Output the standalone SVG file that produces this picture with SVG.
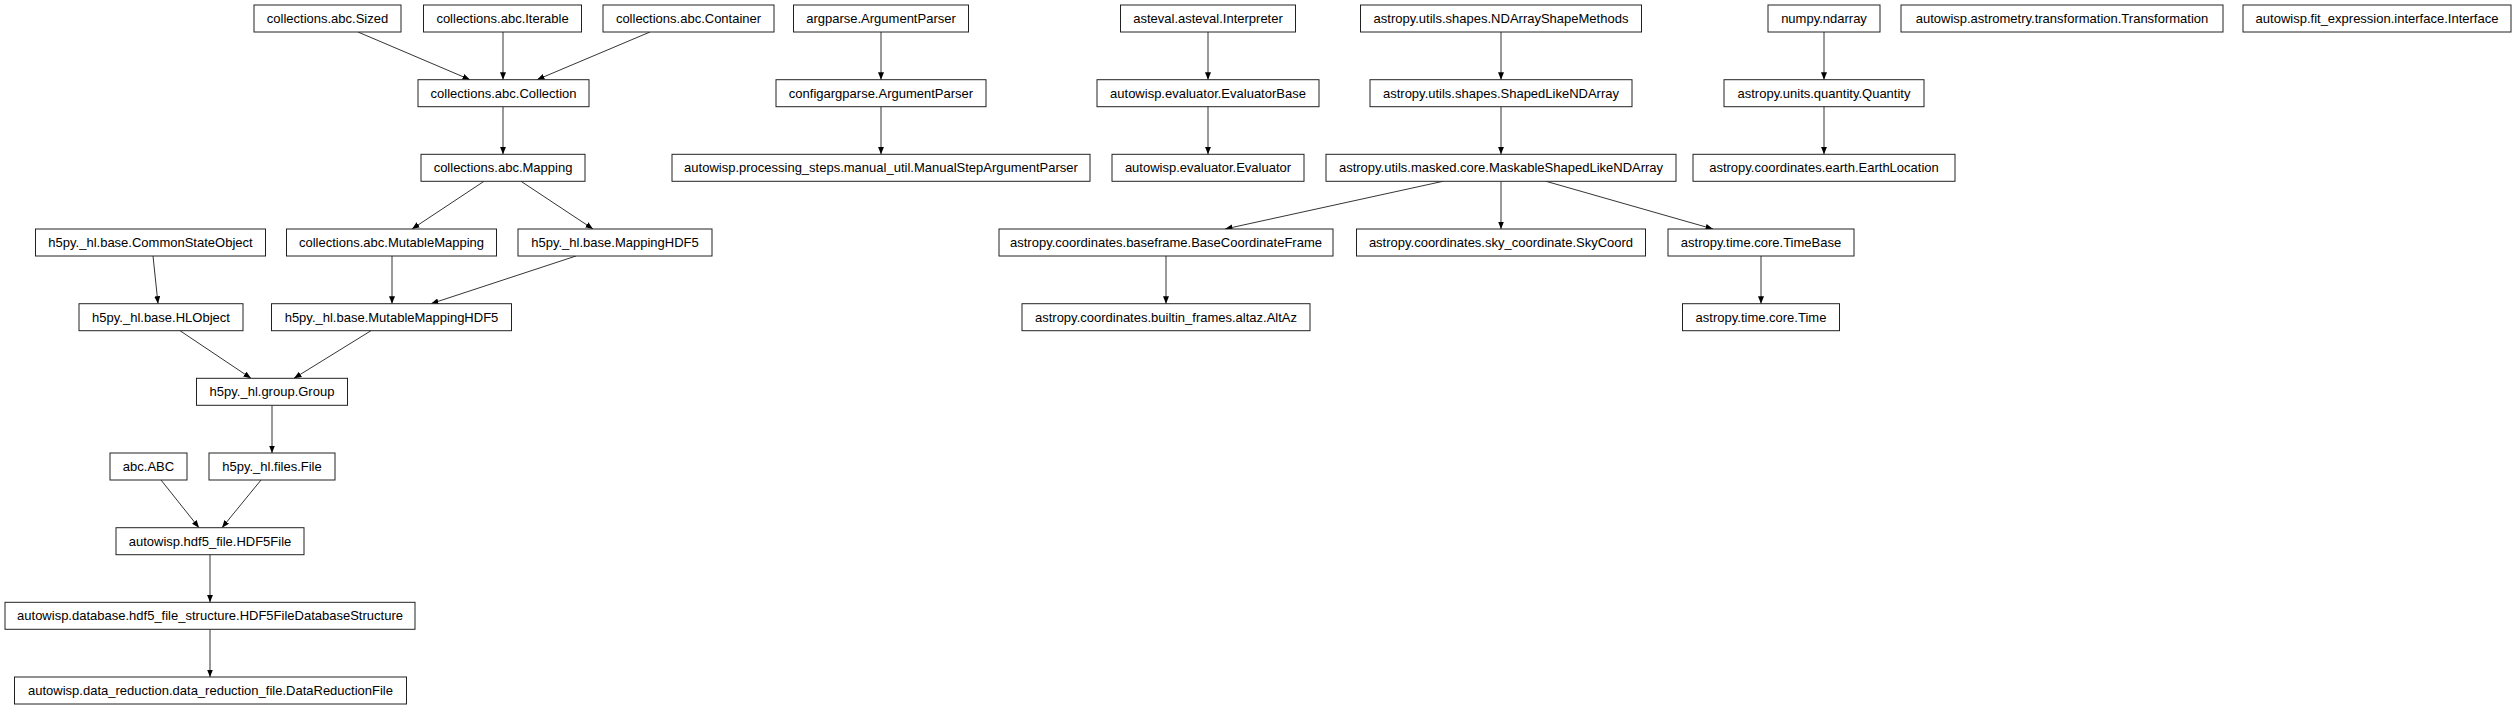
<svg xmlns="http://www.w3.org/2000/svg" width="2516" height="709" viewBox="0 0 2516 709">
<style>
.n rect{fill:#fff;stroke:#222;stroke-width:1}
.n text{font-family:"Liberation Sans",Arial,sans-serif;font-size:13px;fill:#000;text-anchor:middle}
#edges line{stroke:#000;stroke-width:0.8;marker-end:url(#ah)}
</style>
<defs>
<marker id="ah" markerUnits="userSpaceOnUse" markerWidth="8" markerHeight="6" refX="7.5" refY="3" orient="auto">
<path d="M0,0 L7.5,3 L0,6 z" fill="#000"/>
</marker>
</defs>
<rect width="2516" height="709" fill="#fff"/>
<g id="edges">
<line x1="358" y1="32" x2="470" y2="79.7"/>
<line x1="503" y1="32" x2="503" y2="79.7"/>
<line x1="650" y1="32" x2="537" y2="79.7"/>
<line x1="503" y1="106.7" x2="503" y2="154.3"/>
<line x1="484" y1="181.3" x2="412" y2="229"/>
<line x1="521" y1="181.3" x2="593" y2="229"/>
<line x1="153" y1="256" x2="158" y2="303.7"/>
<line x1="392" y1="256" x2="392" y2="303.7"/>
<line x1="576" y1="256" x2="431" y2="303.7"/>
<line x1="180" y1="330.7" x2="251" y2="378.3"/>
<line x1="371" y1="330.7" x2="294" y2="378.3"/>
<line x1="272" y1="405.3" x2="272" y2="453"/>
<line x1="161" y1="480" x2="199" y2="527.7"/>
<line x1="261" y1="480" x2="222" y2="527.7"/>
<line x1="210" y1="554.7" x2="210" y2="602.3"/>
<line x1="210" y1="629.3" x2="210" y2="677"/>
<line x1="881" y1="32" x2="881" y2="79.7"/>
<line x1="881" y1="106.7" x2="881" y2="154.3"/>
<line x1="1208" y1="32" x2="1208" y2="79.7"/>
<line x1="1208" y1="106.7" x2="1208" y2="154.3"/>
<line x1="1501" y1="32" x2="1501" y2="79.7"/>
<line x1="1501" y1="106.7" x2="1501" y2="154.3"/>
<line x1="1824" y1="32" x2="1824" y2="79.7"/>
<line x1="1824" y1="106.7" x2="1824" y2="154.3"/>
<line x1="1443" y1="181.3" x2="1225" y2="229"/>
<line x1="1501" y1="181.3" x2="1501" y2="229"/>
<line x1="1546" y1="181.3" x2="1713" y2="229"/>
<line x1="1166" y1="256" x2="1166" y2="303.7"/>
<line x1="1761" y1="256" x2="1761" y2="303.7"/>
</g>
<g id="sized" class="n"><rect x="254" y="5" width="147" height="27"/><text x="327.5" y="23">collections.abc.Sized</text></g>
<g id="iterable" class="n"><rect x="423.5" y="5" width="158" height="27"/><text x="502.5" y="23">collections.abc.Iterable</text></g>
<g id="container" class="n"><rect x="603" y="5" width="171" height="27"/><text x="688.5" y="23">collections.abc.Container</text></g>
<g id="argparse" class="n"><rect x="793.5" y="5" width="175" height="27"/><text x="881" y="23">argparse.ArgumentParser</text></g>
<g id="interpreter" class="n"><rect x="1120.5" y="5" width="175" height="27"/><text x="1208" y="23">asteval.asteval.Interpreter</text></g>
<g id="ndarrayshapemethods" class="n"><rect x="1360.5" y="5" width="281" height="27"/><text x="1501" y="23">astropy.utils.shapes.NDArrayShapeMethods</text></g>
<g id="ndarray" class="n"><rect x="1768" y="5" width="112" height="27"/><text x="1824" y="23">numpy.ndarray</text></g>
<g id="transformation" class="n"><rect x="1901" y="5" width="322" height="27"/><text x="2062" y="23">autowisp.astrometry.transformation.Transformation</text></g>
<g id="interface" class="n"><rect x="2243" y="5" width="268" height="27"/><text x="2377" y="23">autowisp.fit_expression.interface.Interface</text></g>
<g id="collection" class="n"><rect x="418" y="79.7" width="171" height="27"/><text x="503.5" y="97.7">collections.abc.Collection</text></g>
<g id="configargparse" class="n"><rect x="776" y="79.7" width="210" height="27"/><text x="881" y="97.7">configargparse.ArgumentParser</text></g>
<g id="evaluatorbase" class="n"><rect x="1097" y="79.7" width="222" height="27"/><text x="1208" y="97.7">autowisp.evaluator.EvaluatorBase</text></g>
<g id="shapedlike" class="n"><rect x="1370" y="79.7" width="262" height="27"/><text x="1501" y="97.7">astropy.utils.shapes.ShapedLikeNDArray</text></g>
<g id="quantity" class="n"><rect x="1724" y="79.7" width="200" height="27"/><text x="1824" y="97.7">astropy.units.quantity.Quantity</text></g>
<g id="mapping" class="n"><rect x="421" y="154.3" width="164" height="27"/><text x="503" y="172.3">collections.abc.Mapping</text></g>
<g id="manualstep" class="n"><rect x="672" y="154.3" width="418" height="27"/><text x="881" y="172.3">autowisp.processing_steps.manual_util.ManualStepArgumentParser</text></g>
<g id="evaluator" class="n"><rect x="1112" y="154.3" width="192" height="27"/><text x="1208" y="172.3">autowisp.evaluator.Evaluator</text></g>
<g id="maskable" class="n"><rect x="1326" y="154.3" width="350" height="27"/><text x="1501" y="172.3">astropy.utils.masked.core.MaskableShapedLikeNDArray</text></g>
<g id="earthlocation" class="n"><rect x="1693" y="154.3" width="262" height="27"/><text x="1824" y="172.3">astropy.coordinates.earth.EarthLocation</text></g>
<g id="commonstate" class="n"><rect x="35.5" y="229" width="230" height="27"/><text x="150.5" y="247">h5py._hl.base.CommonStateObject</text></g>
<g id="mutablemapping" class="n"><rect x="286.5" y="229" width="210" height="27"/><text x="391.5" y="247">collections.abc.MutableMapping</text></g>
<g id="mappinghdf5" class="n"><rect x="518" y="229" width="194" height="27"/><text x="615" y="247">h5py._hl.base.MappingHDF5</text></g>
<g id="baseframe" class="n"><rect x="999" y="229" width="334" height="27"/><text x="1166" y="247">astropy.coordinates.baseframe.BaseCoordinateFrame</text></g>
<g id="skycoord" class="n"><rect x="1356.5" y="229" width="289" height="27"/><text x="1501" y="247">astropy.coordinates.sky_coordinate.SkyCoord</text></g>
<g id="timebase" class="n"><rect x="1668" y="229" width="186" height="27"/><text x="1761" y="247">astropy.time.core.TimeBase</text></g>
<g id="hlobject" class="n"><rect x="79" y="303.7" width="164" height="27"/><text x="161" y="321.7">h5py._hl.base.HLObject</text></g>
<g id="mutablemappinghdf5" class="n"><rect x="271.5" y="303.7" width="240" height="27"/><text x="391.5" y="321.7">h5py._hl.base.MutableMappingHDF5</text></g>
<g id="altaz" class="n"><rect x="1022" y="303.7" width="288" height="27"/><text x="1166" y="321.7">astropy.coordinates.builtin_frames.altaz.AltAz</text></g>
<g id="time" class="n"><rect x="1682.5" y="303.7" width="157" height="27"/><text x="1761" y="321.7">astropy.time.core.Time</text></g>
<g id="group" class="n"><rect x="196.5" y="378.3" width="151" height="27"/><text x="272" y="396.3">h5py._hl.group.Group</text></g>
<g id="abc" class="n"><rect x="110" y="453" width="77" height="27"/><text x="148.5" y="471">abc.ABC</text></g>
<g id="file" class="n"><rect x="209" y="453" width="126" height="27"/><text x="272" y="471">h5py._hl.files.File</text></g>
<g id="hdf5file" class="n"><rect x="116" y="527.7" width="188" height="27"/><text x="210" y="545.7">autowisp.hdf5_file.HDF5File</text></g>
<g id="dbstructure" class="n"><rect x="5" y="602.3" width="410" height="27"/><text x="210" y="620.3">autowisp.database.hdf5_file_structure.HDF5FileDatabaseStructure</text></g>
<g id="datareduction" class="n"><rect x="14.5" y="677" width="392" height="27"/><text x="210.5" y="695">autowisp.data_reduction.data_reduction_file.DataReductionFile</text></g>
</svg>
